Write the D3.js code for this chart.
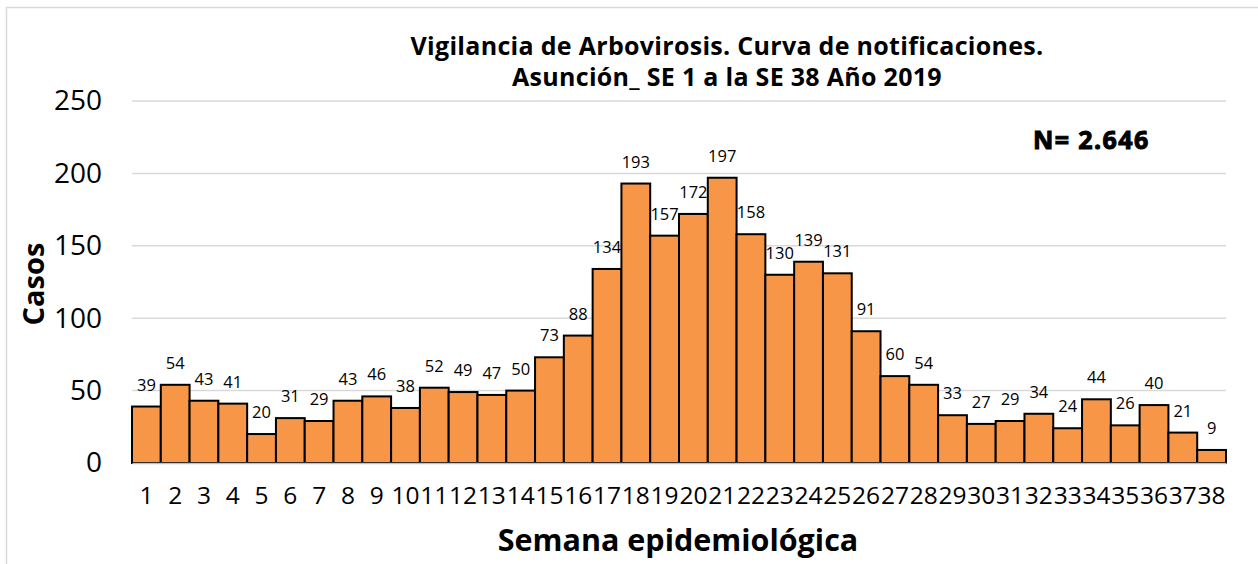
<!DOCTYPE html>
<html lang="es">
<head>
  <meta charset="utf-8">
  <title>Vigilancia de Arbovirosis</title>
  <script src="https://d3js.org/d3.v7.min.js"></script>
  <style>
    body { margin: 0; background: #fff; }
    text { font-family: "Open Sans", "Noto Sans", sans-serif; fill: #000; }
  </style>
</head>
<body>
  <svg width="1258" height="564"></svg>
  <script>
    // semanas epidemiologicas y casos notificados
    const semanas = d3.range(1, 39).map(String);
    const casos = [39, 54, 43, 41, 20, 31, 29, 43, 46, 38, 52, 49, 47, 50, 73, 88, 134, 193, 157, 172,
      197, 158, 130, 139, 131, 91, 60, 54, 33, 27, 29, 34, 24, 44, 26, 40, 21, 9];
    const yTicks = [0, 50, 100, 150, 200, 250];
    const titulo = ["Vigilancia de Arbovirosis. Curva de notificaciones.", "Asunción_ SE 1 a la SE 38 Año 2019"];
    const totalTxt = "N= 2.646";

    const svg = d3.select("svg");
    const margin = { left: 132, right: 32, top: 101, bottom: 101 };
    const W = 1258, H = 564;

    // marco exterior
    svg.append("path")
      .attr("d", "M6.5,600 V7.5 H1300")
      .attr("fill", "none")
      .attr("stroke", "#d9d9d9")
      .attr("stroke-width", 1.5);

    const x = d3.scaleBand()
      .domain(semanas)
      .range([margin.left, W - margin.right])
      .padding(0);

    const y = d3.scaleLinear()
      .domain([0, 250])
      .range([H - margin.bottom, margin.top]);

    // grid
    svg.append("g")
      .selectAll("line")
      .data(yTicks.slice(1))
      .join("line")
      .attr("x1", margin.left)
      .attr("x2", W - margin.right)
      .attr("y1", d => y(d))
      .attr("y2", d => y(d))
      .attr("stroke", "#d9d9d9")
      .attr("stroke-width", 1.5);

    // eje y
    const yAxis = svg.append("g")
      .attr("transform", `translate(${margin.left - 30},0)`)
      .call(d3.axisLeft(y).tickValues(yTicks).tickSize(0).tickPadding(0));
    yAxis.select(".domain").remove();
    yAxis.selectAll("text")
      .attr("font-family", "Open Sans")
      .attr("font-size", 28)
      .attr("fill", "#000");

    // barras
    svg.append("g")
      .selectAll("rect")
      .data(casos)
      .join("rect")
      .attr("x", (d, i) => x(semanas[i]))
      .attr("y", d => y(d))
      .attr("width", x.bandwidth())
      .attr("height", d => y(0) - y(d))
      .attr("fill", "#f79646")
      .attr("stroke", "#000")
      .attr("stroke-width", 2);

    // eje x
    const xAxis = svg.append("g")
      .attr("transform", `translate(0,${y(0)})`)
      .call(d3.axisBottom(x).tickSize(0).tickPadding(24));
    xAxis.select(".domain").attr("stroke", "#bfbfbf").attr("stroke-width", 1.5);
    xAxis.selectAll("text")
      .attr("font-family", "Open Sans")
      .attr("font-size", 24.5)
      .attr("fill", "#000");

    // etiquetas de datos
    svg.append("g")
      .selectAll("text")
      .data(casos)
      .join("text")
      .attr("x", (d, i) => x(semanas[i]) + x.bandwidth() / 2)
      .attr("y", d => y(d) - 16)
      .attr("text-anchor", "middle")
      .attr("font-size", 16.5)
      .attr("fill", "#222")
      .text(d => d);

    // titulo
    svg.append("text")
      .attr("text-anchor", "middle")
      .attr("font-size", 25)
      .attr("font-weight", "bold")
      .attr("letter-spacing", 0.3)
      .selectAll("tspan")
      .data(titulo)
      .join("tspan")
      .attr("x", 727)
      .attr("y", (d, i) => 55 + i * 31)
      .text(d => d);

    svg.append("text")
      .attr("x", 1033)
      .attr("y", 149)
      .attr("font-family", "Liberation Sans, Arial, sans-serif")
      .attr("font-size", 25)
      .attr("font-weight", "bold")
      .attr("letter-spacing", 1.4)
      .attr("stroke", "#000")
      .attr("stroke-width", 1)
      .text(totalTxt);

    // titulos de ejes
    svg.append("text")
      .attr("transform", `translate(44,${(y(0) + y(250)) / 2 + 2}) rotate(-90)`)
      .attr("text-anchor", "middle")
      .attr("font-size", 29)
      .attr("font-weight", "bold")
      .text("Casos");

    svg.append("text")
      .attr("x", 678)
      .attr("y", 551)
      .attr("text-anchor", "middle")
      .attr("font-size", 30.5)
      .attr("font-weight", "bold")
      .text("Semana epidemiológica");
  </script>
</body>
</html>
